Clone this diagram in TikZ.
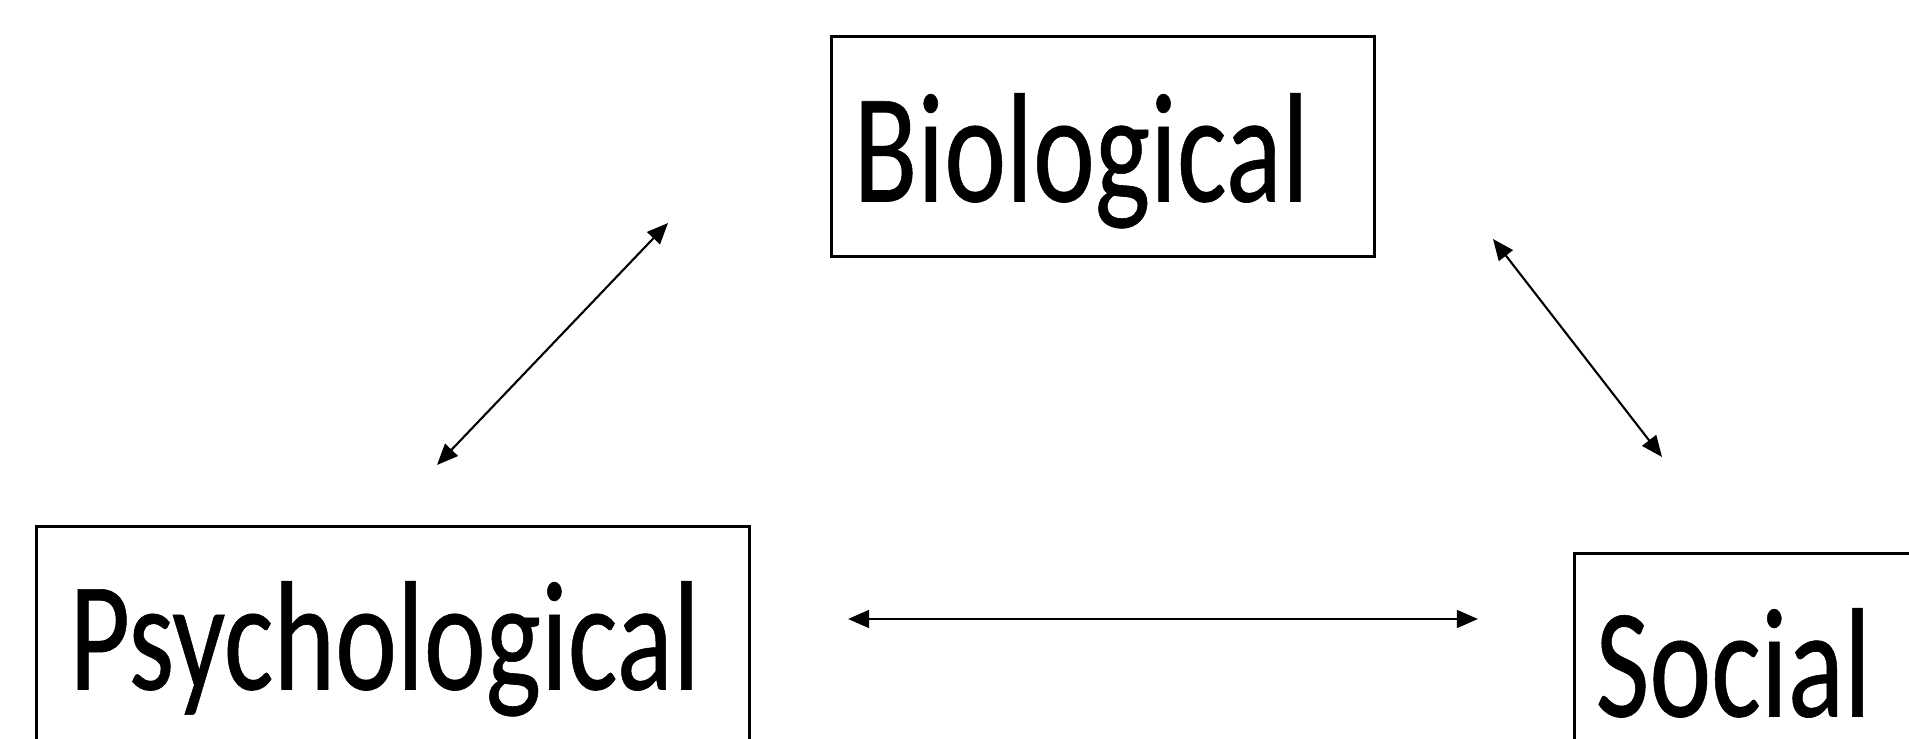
\documentclass[tikz,border=0pt]{standalone}
\usepackage{fontspec}
\setmainfont[FakeBold=0.4]{Carlito}
\usetikzlibrary{arrows.meta}

\begin{document}
\begin{tikzpicture}[x=0.1mm, y=-0.1mm,
    factor/.style={draw, line width=0.85pt, anchor=north west, inner ysep=0pt,
        align=left, font=\fontsize{33.4pt}{40pt}\selectfont},
    link/.style={{Triangle[length=6pt,width=5pt]}-{Triangle[length=6pt,width=5pt]},
        line width=0.6pt}]
    \useasboundingbox (0,0) rectangle (1909,739);
    \clip (0,0) rectangle (1909,739);

    % Facteurs
    \node[factor, inner xsep=0.22cm, text width=4.99cm, text height=1.65cm, text depth=0.55cm]
        (bio) at (830,35) {\scalebox{1}[1.33]{Biological}};
    \node[factor, inner xsep=0.33cm, text width=6.47cm, text height=1.63cm, text depth=0.7cm]
        (psy) at (35,525) {\scalebox{1}[1.33]{Psychological}};
    \node[factor, inner xsep=0.21cm, text width=3cm, text height=1.63cm, text depth=0.7cm]
        (soc) at (1573,552) {\scalebox{1}[1.33]{Social}};

    % Extremites des fleches
    \coordinate (psy-up) at (437,465);
    \coordinate (bio-left) at (668,223);
    \coordinate (bio-right) at (1493,239);
    \coordinate (soc-up) at (1662,457);
    \coordinate (psy-right) at (848,619);
    \coordinate (soc-left) at (1478,619);

    % Interactions
    \draw[link] (psy-up) -- (bio-left);
    \draw[link] (bio-right) -- (soc-up);
    \draw[link, line width=0.85pt] (psy-right) -- (soc-left);
\end{tikzpicture}
\end{document}
